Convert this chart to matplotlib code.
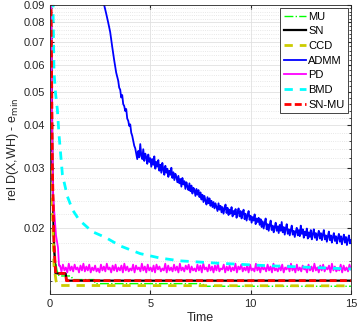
import numpy as np
import matplotlib
matplotlib.use("Agg")
import matplotlib.pyplot as plt
from matplotlib.ticker import FixedLocator, NullFormatter

plt.rcParams['font.family'] = ['Liberation Sans', 'DejaVu Sans']

# fast methods (time, value)
mu_t = [0.0, 0.05, 0.1, 0.2, 0.35, 0.45, 1.05, 1.15, 2.2, 2.25, 7.6, 7.7, 15.0]
mu_v = [0.3, 0.09, 0.03, 0.017, 0.0150, 0.01445, 0.01445, 0.0141, 0.0141, 0.01372, 0.01372, 0.01348, 0.01348]

sn_t = [0.0, 0.05, 0.12, 0.2, 0.28, 0.78, 0.82, 15.0]
sn_v = [0.3, 0.09, 0.03, 0.018, 0.0147, 0.0147, 0.0140, 0.0140]

ccd_t = [0.0, 0.05, 0.1, 0.2, 0.3, 0.4, 15.0]
ccd_v = [0.3, 0.09, 0.025, 0.0155, 0.0140, 0.01355, 0.01352]

snmu_t = [0.0, 0.05, 0.12, 0.2, 0.28, 0.78, 0.82, 15.0]
snmu_v = [0.3, 0.09, 0.03, 0.018, 0.0147, 0.0147, 0.0140, 0.0140]

bmd_t = [0.0, 0.15, 0.2, 0.28, 0.37, 0.45, 0.62, 0.87, 1.12, 1.45, 2.1, 2.8, 3.5, 4.5, 5.5,
         6.5, 8.3, 10.7, 15.0]
bmd_v = [0.5, 0.09, 0.0573, 0.0494, 0.0443, 0.0375, 0.0286, 0.0247, 0.0226, 0.0211, 0.0195,
         0.0187, 0.0177, 0.0168, 0.0163, 0.0160, 0.01576, 0.0155, 0.01515]

# PD: drop then noisy plateau (0.5 .. 15)
pd_head_t = [0.0, 0.1, 0.15, 0.3, 0.4, 0.45]
pd_head_v = [0.3, 0.04, 0.025, 0.019, 0.0175, 0.0155]
pd_tail = [
    0.0155, 0.0149, 0.0156, 0.0150, 0.0153, 0.0148, 0.0157, 0.0150, 0.0154, 0.0149,
    0.0156, 0.0151, 0.0153, 0.0148, 0.0155, 0.0150, 0.0157, 0.0149, 0.0154, 0.0150,
    0.0156, 0.0148, 0.0153, 0.0150, 0.0155, 0.0149, 0.0152, 0.0148, 0.0156, 0.0150,
    0.0154, 0.0149, 0.0157, 0.0151, 0.0153, 0.0148, 0.0155, 0.0150, 0.0156, 0.0149,
    0.0153, 0.0150, 0.0155, 0.0148, 0.0157, 0.0150, 0.0154, 0.0149, 0.0152, 0.0150,
    0.0156, 0.0148, 0.0155, 0.0151, 0.0153, 0.0149, 0.0157, 0.0150, 0.0154, 0.0148,
    0.0156, 0.0150, 0.0153, 0.0149, 0.0155, 0.0148, 0.0156, 0.0151, 0.0154, 0.0149,
    0.0152, 0.0150, 0.0157, 0.0148, 0.0155, 0.0150, 0.0153, 0.0149, 0.0156, 0.0150,
    0.0154, 0.0148, 0.0157, 0.0150, 0.0153, 0.0149, 0.0155, 0.0151, 0.0156, 0.0148,
    0.0154, 0.0150, 0.0152, 0.0149, 0.0156, 0.0150, 0.0155, 0.0148, 0.0157, 0.0151,
    0.0153, 0.0149, 0.0156, 0.0150, 0.0154, 0.0148, 0.0155, 0.0150, 0.0157, 0.0149,
    0.0152, 0.0151, 0.0156, 0.0148, 0.0154, 0.0150, 0.0155, 0.0149, 0.0153, 0.0150,
    0.0157, 0.0148, 0.0154, 0.0151, 0.0156, 0.0149, 0.0153, 0.0150, 0.0155, 0.0148,
    0.0156, 0.0150, 0.0152, 0.0149, 0.0157, 0.0150, 0.0154, 0.0148, 0.0155, 0.0151,
    0.0153, 0.0149, 0.0156, 0.0150, 0.0154, 0.0148, 0.0157, 0.0150, 0.0152, 0.0149,
    0.0155, 0.0150, 0.0156, 0.0148, 0.0153, 0.0151, 0.0155, 0.0149, 0.0157, 0.0150,
    0.0154, 0.0148, 0.0156, 0.0150, 0.0153, 0.0149, 0.0155, 0.0151, 0.0152, 0.0148,
    0.0156, 0.0150, 0.0154, 0.0149, 0.0157, 0.0150, 0.0153, 0.0148, 0.0155, 0.0150,
    0.0156, 0.0149, 0.0153, 0.0151, 0.0155, 0.0148, 0.0157, 0.0150, 0.0154, 0.0149,
    0.0152, 0.0150, 0.0156, 0.0148, 0.0155, 0.0150, 0.0153, 0.0149, 0.0156, 0.0151,
]

# ADMM: smooth head, then noisy tail sampled every 0.05 from 3.4 to 15
admm_head_t = [2.6, 2.7, 2.8, 2.9, 3.0, 3.1, 3.2, 3.3]
admm_head_v = [0.097, 0.090, 0.085, 0.080, 0.075, 0.068, 0.062, 0.057]
admm_tail = [
    0.0540, 0.0515, 0.0508, 0.0482, 0.0490, 0.0461, 0.0455, 0.0440, 0.0446, 0.0418,
    0.0412, 0.0398, 0.0402, 0.0380, 0.0372, 0.0360, 0.0348, 0.0342, 0.0330, 0.0318,
    0.0336, 0.0322, 0.0352, 0.0326, 0.0318, 0.0340, 0.0314, 0.0330, 0.0322, 0.0308,
    0.0328, 0.0312, 0.0320, 0.0302, 0.0318, 0.0306, 0.0324, 0.0298, 0.0312, 0.0302,
    0.0316, 0.0294, 0.0306, 0.0290, 0.0310, 0.0296, 0.0286, 0.0304, 0.0290, 0.0298,
    0.0282, 0.0294, 0.0286, 0.0300, 0.0280, 0.0291, 0.0276, 0.0288, 0.0282, 0.0272,
    0.0284, 0.0270, 0.0278, 0.0264, 0.0280, 0.0268, 0.0274, 0.0260, 0.0272, 0.0264,
    0.0258, 0.0270, 0.0256, 0.0266, 0.0252, 0.0262, 0.0258, 0.0248, 0.0260, 0.0250,
    0.0258, 0.0246, 0.0254, 0.0242, 0.0250, 0.0238, 0.0248, 0.0240, 0.0234, 0.0246,
    0.0236, 0.0244, 0.0232, 0.0240, 0.0230, 0.0238, 0.0228, 0.0236, 0.0230, 0.0224,
    0.0236, 0.0226, 0.0232, 0.0222, 0.0230, 0.0220, 0.0228, 0.0234, 0.0221, 0.0229,
    0.0218, 0.0226, 0.0220, 0.0230, 0.0216, 0.0224, 0.0219, 0.0227, 0.0214, 0.0222,
    0.0228, 0.0216, 0.0224, 0.0213, 0.0221, 0.0226, 0.0212, 0.0220, 0.0210, 0.0218,
    0.0224, 0.0211, 0.0217, 0.0207, 0.0215, 0.0210, 0.0219, 0.0205, 0.0213, 0.0208,
    0.0214, 0.0204, 0.0212, 0.0201, 0.0209, 0.0199, 0.0207, 0.0213, 0.0198, 0.0205,
    0.0196, 0.0204, 0.0210, 0.0197, 0.0203, 0.0194, 0.0201, 0.0207, 0.0196, 0.0202,
    0.0193, 0.0204, 0.0196, 0.0208, 0.0194, 0.0201, 0.0191, 0.0199, 0.0205, 0.0192,
    0.0198, 0.0190, 0.0197, 0.0203, 0.0191, 0.0196, 0.0188, 0.0195, 0.0200, 0.0190,
    0.0197, 0.0189, 0.0203, 0.0192, 0.0198, 0.0187, 0.0195, 0.0190, 0.0199, 0.0186,
    0.0194, 0.0188, 0.0197, 0.0185, 0.0192, 0.0198, 0.0187, 0.0193, 0.0184, 0.0191,
    0.0196, 0.0186, 0.0193, 0.0184, 0.0191, 0.0197, 0.0185, 0.0190, 0.0182, 0.0189,
    0.0195, 0.0184, 0.0190, 0.0181, 0.0188, 0.0193, 0.0183, 0.0189, 0.0180, 0.0187,
    0.0192, 0.0182, 0.0189, 0.0179, 0.0186, 0.0191, 0.0181, 0.0188, 0.0178, 0.0185,
    0.0190, 0.0180, 0.0184,
]

admm_t = admm_head_t + list(np.linspace(3.4, 15.0, len(admm_tail)))
admm_v = admm_head_v + admm_tail
pd_t = pd_head_t + list(np.linspace(0.5, 15.0, len(pd_tail)))
pd_v = pd_head_v + pd_tail

yticks = [0.02, 0.03, 0.04, 0.05, 0.06, 0.07, 0.08, 0.09]
yminor = [0.014, 0.016, 0.018] + [round(0.02 + 0.002 * k, 3) for k in range(1, 35) if k % 5 != 0]
xticks = [0, 5, 10, 15]

fig = plt.figure(figsize=(3.57, 3.31), dpi=100)
ax = fig.add_axes([0.14, 0.112, 0.843, 0.873])

ax.plot(mu_t, mu_v, '-.', color=(0, 1, 0), lw=1.0, label='MU')
ax.plot(sn_t, sn_v, '-', color='k', lw=1.6, label='SN')
ax.plot(ccd_t, ccd_v, '--', color=(0.8, 0.8, 0), lw=2.0, dashes=(3, 2.5), label='CCD')
ax.plot(admm_t, admm_v, '-', color=(0, 0, 1), lw=1.3, label='ADMM')
ax.plot(pd_t, pd_v, '-', color=(1, 0, 1), lw=1.3, label='PD')
ax.plot(bmd_t, bmd_v, '--', color=(0, 1, 1), lw=2.0, dashes=(3, 2.5), label='BMD')
ax.plot(snmu_t, snmu_v, '--', color=(1, 0, 0), lw=2.0, dashes=(2.5, 1.2), label='SN-MU')

ax.set_yscale('log')
ax.set_xlim(0, 15)
ax.set_ylim(0.0128, 0.09)
ax.yaxis.set_major_locator(FixedLocator(yticks))
ax.yaxis.set_minor_locator(FixedLocator(yminor))
ax.yaxis.set_minor_formatter(NullFormatter())
ax.set_yticklabels([f'{v:g}' for v in yticks])
ax.set_xticks(xticks)

ax.grid(True, which='major', color='0.88', lw=0.6)
ax.grid(True, which='minor', color='0.88', lw=0.6, ls=':')
ax.set_axisbelow(True)
ax.tick_params(which='both', direction='in', top=True, right=True, colors='0.15',
               labelsize=8, labelcolor='0.15')
ax.tick_params(which='major', length=3)
ax.tick_params(which='minor', length=1.5)
for s in ax.spines.values():
    s.set_color('0.15')
    s.set_linewidth(0.6)

ax.set_xlabel('Time', fontsize=9, color='0.15', labelpad=2)
ax.set_ylabel('rel D(X,WH) - e$_{\\mathrm{min}}$', fontsize=9, color='0.15', labelpad=2)

leg = ax.legend(loc='upper right', fontsize=8, frameon=True, fancybox=False,
                edgecolor='0.15', framealpha=1, labelspacing=0.42, handlelength=2.0,
                handletextpad=0.2, borderpad=0.3, borderaxespad=0.3)
leg.get_frame().set_linewidth(0.6)

fig.savefig('out.png', dpi=100)
